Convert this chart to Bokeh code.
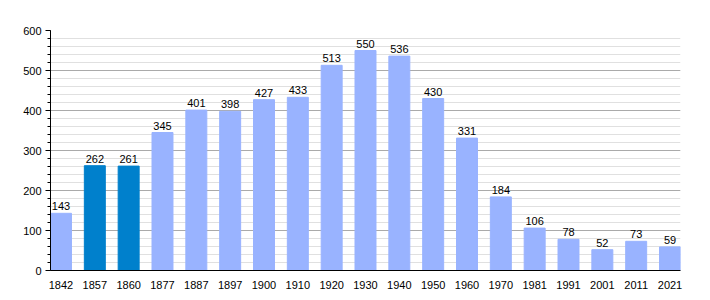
from bokeh.plotting import figure
from bokeh.models import ColumnDataSource, Range1d, SingleIntervalTicker, FixedTicker, LabelSet
from bokeh.core.properties import value
from bokeh.embed import file_html
from bokeh.resources import INLINE

years = ["1842", "1857", "1860", "1877", "1887", "1897", "1900", "1910", "1920", "1930",
         "1940", "1950", "1960", "1970", "1981", "1991", "2001", "2011", "2021"]
population = [143, 262, 261, 345, 401, 398, 427, 433, 513, 550,
              536, 430, 331, 184, 106, 78, 52, 73, 59]
highlight = ["1857", "1860"]

LIGHT = "#99b3ff"
DARK = "#0080cc"

xs = list(range(len(years)))
colors = [DARK if y in highlight else LIGHT for y in years]
src = ColumnDataSource(dict(x=xs, top=population, color=colors,
                            label=[str(v) for v in population]))

p = figure(width=710, height=300, output_backend="svg", toolbar_location=None,
           x_range=Range1d(-0.31, len(years) - 1 + 0.31), y_range=Range1d(0, 600),
           min_border_left=50, min_border_right=30, min_border_top=30, min_border_bottom=30)
p.outline_line_color = None
p.background_fill_color = "white"

p.vbar(x="x", top="top", width=0.62, color="color", source=src)

labels = LabelSet(x="x", y="top", text="label", source=src, text_align="center",
                  text_baseline="bottom", y_offset=3, text_font=value("Liberation Sans"),
                  text_font_size="11px", text_color="black")
p.add_layout(labels)

# y axis
p.yaxis.ticker = SingleIntervalTicker(interval=100, num_minor_ticks=5)
p.yaxis.major_label_text_font = "Liberation Sans"
p.yaxis.major_label_text_font_size = "11px"
p.yaxis.major_label_text_color = "black"
p.yaxis.axis_line_color = "black"
p.yaxis.major_tick_line_color = "black"
p.yaxis.minor_tick_line_color = "black"
p.yaxis.major_tick_out = 5
p.yaxis.major_tick_in = 0
p.yaxis.minor_tick_out = 3
p.yaxis.minor_tick_in = 0
p.yaxis.major_label_standoff = 4

# x axis
p.xaxis.ticker = FixedTicker(ticks=xs)
p.xaxis.major_label_overrides = {i: y for i, y in enumerate(years)}
p.xaxis.major_label_text_font = "Liberation Sans"
p.xaxis.major_label_text_font_size = "11px"
p.xaxis.major_label_text_color = "black"
p.xaxis.axis_line_color = "black"
p.xaxis.major_tick_line_color = None
p.xaxis.minor_tick_line_color = None
p.xaxis.major_label_standoff = 4

# grid
p.xgrid.grid_line_color = None
p.ygrid.grid_line_color = "#aaaaaa"
p.ygrid.minor_grid_line_color = "#e0e0e0"
p.ygrid.level = "underlay"

open("out.html", "w").write(file_html(p, INLINE))
